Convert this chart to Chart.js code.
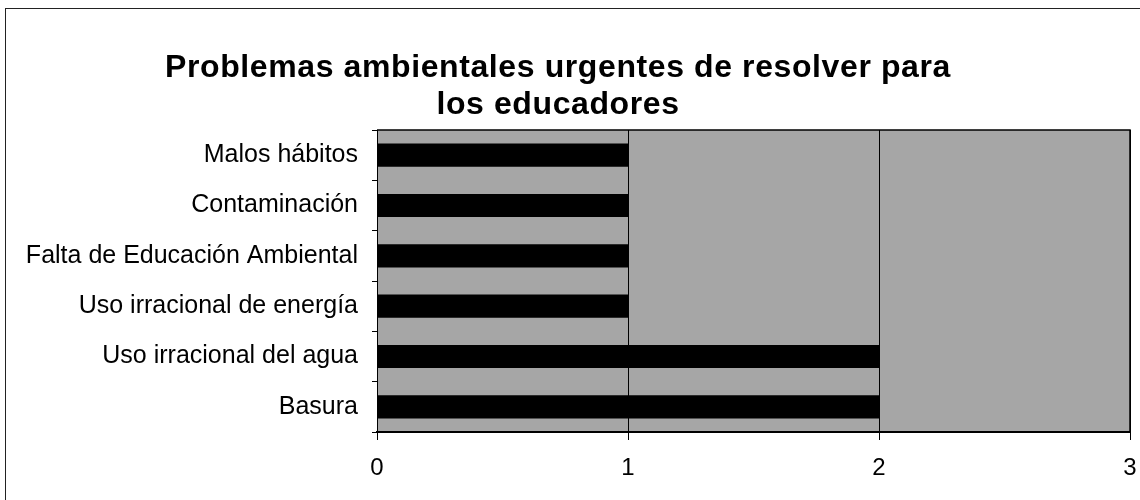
<!DOCTYPE html>
<html>
<head>
<meta charset="utf-8">
<script src="https://cdn.jsdelivr.net/npm/chart.js@4.4.0/dist/chart.umd.min.js"></script>
<style>
  html, body { margin: 0; padding: 0; background: #fff; }
  #wrap { position: relative; width: 1140px; height: 500px; overflow: hidden; }
  #frame { position: absolute; left: 5px; top: 8px; width: 1160px; height: 520px; border: 1.5px solid #222; box-sizing: border-box; pointer-events: none; }
  canvas { position: absolute; left: 0; top: 0; }
</style>
</head>
<body>
<div id="wrap">
  <canvas id="c" width="1140" height="500"></canvas>
  <div id="frame"></div>
</div>
<script>
const titleLines = ["Problemas ambientales urgentes de resolver para", "los educadores"];
const categories = ["Malos hábitos", "Contaminación", "Falta de Educación Ambiental", "Uso irracional de energía", "Uso irracional del agua", "Basura"];
const values = [1, 1, 1, 1, 2, 2];
const xTicks = [0, 1, 2, 3];

const FONT = "'Liberation Sans', Arial, sans-serif";

const plotBg = {
  id: 'plotBg',
  beforeDraw(chart) {
    const { ctx, chartArea: a } = chart;
    ctx.save();
    ctx.fillStyle = '#a6a6a6';
    ctx.fillRect(a.left, a.top, a.right - a.left, a.bottom - a.top);
    ctx.restore();
  },
  afterDatasetsDraw(chart) {
    const { ctx, chartArea: a } = chart;
    ctx.save();
    ctx.strokeStyle = '#000';
    ctx.lineWidth = 1.5;
    ctx.beginPath();
    ctx.moveTo(a.left, a.top);
    ctx.lineTo(a.right, a.top);
    ctx.lineTo(a.right, a.bottom);
    ctx.stroke();
    ctx.restore();
  }
};

const titlePlugin = {
  id: 'spacedTitle',
  afterDraw(chart) {
    const { ctx } = chart;
    ctx.save();
    ctx.fillStyle = '#000';
    ctx.font = "bold 32px " + FONT;
    ctx.textAlign = 'center';
    ctx.textBaseline = 'middle';
    if ('letterSpacing' in ctx) ctx.letterSpacing = '0.6px';
    const cx = 558;
    ctx.fillText(titleLines[0], cx, 68);
    ctx.fillText(titleLines[1], cx, 105);
    ctx.restore();
  }
};

new Chart(document.getElementById('c'), {
  type: 'bar',
  data: {
    labels: categories,
    datasets: [{
      data: values,
      backgroundColor: '#000',
      borderWidth: 0,
      barPercentage: 0.46,
      categoryPercentage: 1.0
    }]
  },
  options: {
    indexAxis: 'y',
    responsive: false,
    animation: false,
    devicePixelRatio: 1,
    layout: { padding: { top: 130, right: 10, bottom: 0, left: 0 } },
    plugins: { legend: { display: false }, title: { display: false }, tooltip: { enabled: false } },
    scales: {
      x: {
        min: 0, max: 3,
        afterBuildTicks(scale) { scale.ticks = xTicks.map(v => ({ value: v })); },
        afterFit(scale) { scale.height = 68; scale.paddingRight = 0; scale.paddingLeft = 0; },
        grid: { color: '#000', lineWidth: 1, drawOnChartArea: true, drawTicks: true, tickLength: 8, tickColor: '#000' },
        border: { display: true, color: '#000', width: 2 },
        ticks: { color: '#000', font: { family: FONT, size: 24 }, padding: 14, maxRotation: 0 }
      },
      y: {
        afterFit(scale) { scale.width = 377; scale.paddingTop = 0; scale.paddingBottom = 0; },
        grid: { color: '#000', drawOnChartArea: false, drawTicks: true, tickLength: 5, offset: true },
        border: { display: true, color: '#000', width: 1 },
        ticks: { color: '#000', font: { family: FONT, size: 25 }, padding: 14 }
      }
    }
  },
  plugins: [plotBg, titlePlugin]
});
</script>
</body>
</html>
